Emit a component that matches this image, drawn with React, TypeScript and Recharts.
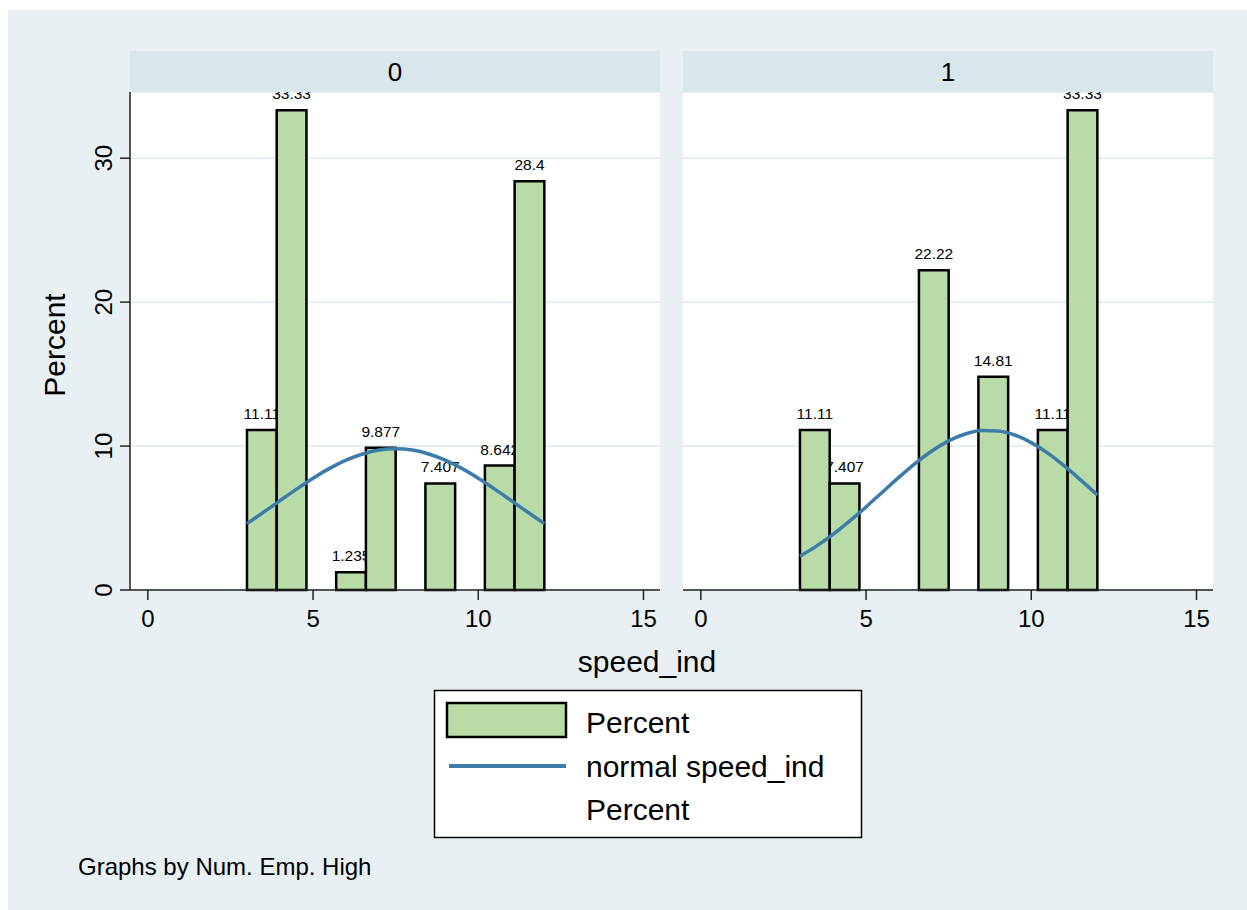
import React from "react";
import {
  ComposedChart,
  Line,
  XAxis,
  YAxis,
  CartesianGrid,
  ReferenceArea,
} from "recharts";

// histogram bins of speed_ind (width 0.9, from 3 to 12)
const binEdges = [3, 3.9, 4.8, 5.7, 6.6, 7.5, 8.4, 9.3, 10.2, 11.1, 12];
const pctLow = [11.11, 33.33, 0, 1.235, 9.877, 0, 7.407, 0, 8.642, 28.4];
const pctHigh = [11.11, 7.407, 0, 0, 22.22, 0, 14.81, 0, 11.11, 33.33];

// normal overlay
const curveX = [3, 3.5, 4, 4.5, 5, 5.5, 6, 6.5, 7, 7.5, 8, 8.5, 9, 9.5, 10, 10.5, 11, 11.5, 12];
const normalLow = [4.61, 5.4, 6.21, 7.01, 7.77, 8.45, 9.02, 9.45, 9.72, 9.81, 9.72, 9.45, 9.02, 8.45, 7.77, 7.01, 6.21, 5.4, 4.61];
const normalHigh = [2.35, 3.05, 3.86, 4.78, 5.77, 6.81, 7.84, 8.81, 9.67, 10.36, 10.84, 11.08, 11.05, 10.77, 10.24, 9.51, 8.62, 7.63, 6.6];

const xTicks = [0, 5, 10, 15];
const yTicks = [0, 10, 20, 30];
const panelNames = ["0", "1"];

const FONT = "'Liberation Sans', Arial, Helvetica, sans-serif";
const BAR_FILL = "#b8dba8";
const CURVE = "#3d7ca8";
const BG = "#e8f0f3";
const STRIP = "#d9e6ec";

const YTick = (props: any) => {
  const { x, y, payload } = props;
  return (
    <text
      x={x}
      y={y}
      transform={`rotate(-90 ${x} ${y})`}
      textAnchor="middle"
      fontSize={24}
      fontFamily={FONT}
      fill="#000"
    >
      {payload.value}
    </text>
  );
};

function Panel({
  left,
  pct,
  normal,
  showY,
}: {
  left: number;
  pct: number[];
  normal: number[];
  showY: boolean;
}) {
  const data = curveX.map((x, i) => ({ x, y: normal[i] }));
  const bins = pct
    .map((v, i) => ({ lo: binEdges[i], hi: binEdges[i + 1], v }))
    .filter((b) => b.v > 0);
  const yw = showY ? 110 : 0;
  return (
    <div style={{ position: "absolute", left: left - yw, top: 82 }}>
      <ComposedChart
        width={530 + yw + 10}
        height={558}
        data={data}
        margin={{ top: 10, right: 10, bottom: 0, left: 0 }}
      >
        <CartesianGrid
          vertical={false}
          stroke="#e6eef1"
          strokeWidth={2}
          fill="#ffffff"
          fillOpacity={1}
        />
        <XAxis
          dataKey="x"
          type="number"
          domain={[-0.54, 15.5]}
          allowDataOverflow
          ticks={xTicks}
          height={50}
          tickSize={10}
          tickMargin={10}
          stroke="#222"
          strokeWidth={1.5}
          tick={{ fontSize: 24, fill: "#000", fontFamily: FONT }}
        />
        <YAxis
          type="number"
          domain={[0, 34.6]}
          allowDataOverflow
          ticks={yTicks}
          hide={!showY}
          width={yw}
          tickSize={10}
          tickMargin={8}
          stroke="#222"
          strokeWidth={1.5}
          tick={<YTick />}
        />
        {bins.map((b) => (
          <ReferenceArea
            key={"l" + b.lo}
            x1={b.lo}
            x2={b.hi}
            y1={0}
            y2={b.v}
            shape={(p: any) => (
              <text
                x={p.x + p.width / 2}
                y={p.y - 11}
                textAnchor="middle"
                fontSize={15.5}
                fontFamily={FONT}
                fill="#000"
              >
                {String(b.v)}
              </text>
            )}
          />
        ))}
        {bins.map((b) => (
          <ReferenceArea
            key={"b" + b.lo}
            x1={b.lo}
            x2={b.hi}
            y1={0}
            y2={b.v}
            fill={BAR_FILL}
            fillOpacity={1}
            stroke="#000"
            strokeWidth={2.5}
          />
        ))}
        <Line
          type="monotone"
          dataKey="y"
          stroke={CURVE}
          strokeWidth={3.5}
          dot={false}
          isAnimationActive={false}
        />
      </ComposedChart>
    </div>
  );
}

export default function App() {
  return (
    <div
      style={{
        position: "absolute",
        left: 0,
        top: 0,
        width: 1247,
        height: 910,
        background: "#fff",
        overflow: "hidden",
        fontFamily: FONT,
      }}
    >
      <div
        style={{
          position: "absolute",
          left: 8,
          top: 10,
          width: 1239,
          height: 900,
          background: BG,
        }}
      />
      <Panel left={130} pct={pctLow} normal={normalLow} showY />
      <Panel left={683} pct={pctHigh} normal={normalHigh} showY={false} />
      <svg
        width={1247}
        height={910}
        style={{ position: "absolute", left: 0, top: 0, pointerEvents: "none" }}
      >
        {panelNames.map((n, i) => (
          <g key={n}>
            <rect x={i === 0 ? 130 : 683} y={51} width={530} height={41} fill={STRIP} />
            <text
              x={(i === 0 ? 130 : 683) + 265}
              y={81}
              textAnchor="middle"
              fontSize={26}
              fontFamily={FONT}
            >
              {n}
            </text>
          </g>
        ))}
        <text
          x={65}
          y={345}
          transform="rotate(-90 65 345)"
          textAnchor="middle"
          fontSize={30}
          fontFamily={FONT}
        >
          Percent
        </text>
        <text x={647} y={672} textAnchor="middle" fontSize={30} fontFamily={FONT}>
          speed_ind
        </text>
        <rect x={434.5} y={690.5} width={427} height={147} fill="#fff" stroke="#000" strokeWidth={1.5} />
        <rect x={447} y={703} width={119} height={34} fill={BAR_FILL} stroke="#000" strokeWidth={2.5} />
        <line x1={449} y1={766} x2={566} y2={766} stroke={CURVE} strokeWidth={4} />
        <text x={586} y={733} fontSize={30} fontFamily={FONT}>
          Percent
        </text>
        <text x={586} y={777} fontSize={30} fontFamily={FONT}>
          normal speed_ind
        </text>
        <text x={586} y={820} fontSize={30} fontFamily={FONT}>
          Percent
        </text>
        <text x={78} y={875} fontSize={24} fontFamily={FONT}>
          Graphs by Num. Emp. High
        </text>
      </svg>
    </div>
  );
}
